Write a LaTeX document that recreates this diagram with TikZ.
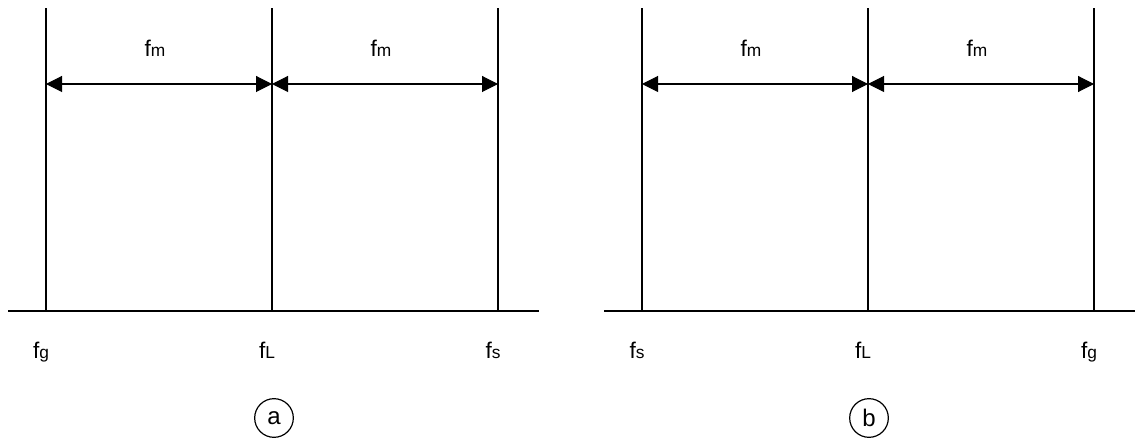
\documentclass[tikz,border=0pt]{standalone}
\usepackage{fontspec}
\setmainfont{Liberation Sans}
\usetikzlibrary{arrows.meta, positioning}
\newcommand{\lo}[1]{{\fontsize{13}{13}\selectfont #1}}

\begin{document}
\begin{tikzpicture}[
    x=0.75pt, y=0.75pt,
    >={Triangle[length=12pt, width=12pt]},
    axis/.style={
        draw=black,
        line width=1.1pt
    },
    mark line/.style={
        draw=black,
        line width=1.4pt
    },
    span/.style={
        draw=black,
        line width=0.8pt,
        <->
    },
    lbl/.style={
        font=\fontsize{17}{17}\selectfont,
        text=black,
        inner sep=0pt,
        anchor=base
    },
    tag/.style={
        circle,
        draw=black,
        line width=0.9pt,
        minimum size=29pt,
        inner sep=0pt,
        font=\fontsize{18}{18}\selectfont
    }
]
\useasboundingbox (0,0) rectangle (1137,439);

% panel a
\coordinate (A0) at (8,128);
\coordinate (A9) at (539,128);
\coordinate (A1b) at (46,128);   \coordinate (A1t) at (46,431);
\coordinate (A2b) at (272,128);  \coordinate (A2t) at (272,431);
\coordinate (A3b) at (498,128);  \coordinate (A3t) at (498,431);
\coordinate (A1m) at (46,355);
\coordinate (A2m) at (272,355);
\coordinate (A3m) at (498,355);

\draw[axis] (A0) -- (A9);
\draw[mark line] (A1b) -- (A1t);
\draw[mark line] (A2b) -- (A2t);
\draw[mark line] (A3b) -- (A3t);
\draw[span] (A1m) -- (A2m);
\draw[span] (A2m) -- (A3m);

\node[lbl] (Afm1) at (155,382) {f\lo{m}};
\node[lbl] (Afm2) at (381,382) {f\lo{m}};
\node[lbl] (Afg) at (41,81) {f\lo{g}};
\node[lbl] (AfL) at (267,81) {f\lo{L}};
\node[lbl] (Afs) at (493,81) {f\lo{s}};
\node[tag] (Atag) at (274,21) {a};

% panel b
\coordinate (B0) at (604,128);
\coordinate (B9) at (1135,128);
\coordinate (B1b) at (642,128);   \coordinate (B1t) at (642,431);
\coordinate (B2b) at (868,128);   \coordinate (B2t) at (868,431);
\coordinate (B3b) at (1094,128);  \coordinate (B3t) at (1094,431);
\coordinate (B1m) at (642,355);
\coordinate (B2m) at (868,355);
\coordinate (B3m) at (1094,355);

\draw[axis] (B0) -- (B9);
\draw[mark line] (B1b) -- (B1t);
\draw[mark line] (B2b) -- (B2t);
\draw[mark line] (B3b) -- (B3t);
\draw[span] (B1m) -- (B2m);
\draw[span] (B2m) -- (B3m);

\node[lbl] (Bfm1) at (751,382) {f\lo{m}};
\node[lbl] (Bfm2) at (977,382) {f\lo{m}};
\node[lbl] (Bfs) at (637,81) {f\lo{s}};
\node[lbl] (BfL) at (863,81) {f\lo{L}};
\node[lbl] (Bfg) at (1089,81) {f\lo{g}};
\node[tag] (Btag) at (869,21) {b};

\end{tikzpicture}
\end{document}
